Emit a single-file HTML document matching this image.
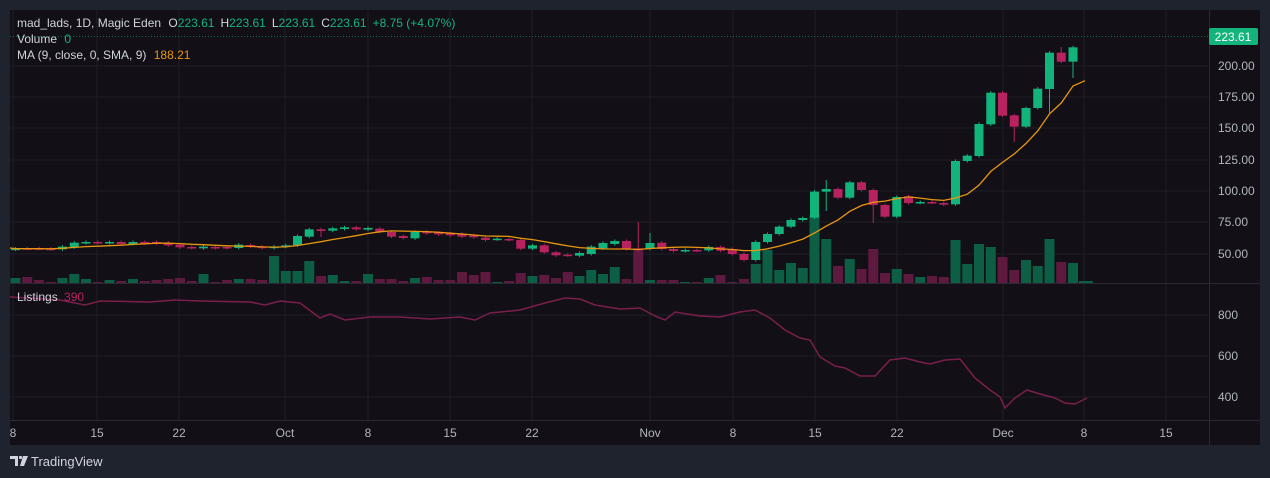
<!DOCTYPE html><html><head><meta charset="utf-8"><style>
body{margin:0;width:1270px;height:478px;background:#1f232d;overflow:hidden;font-family:"Liberation Sans",sans-serif}
svg{position:absolute;left:0;top:0}
</style></head><body>
<svg id="s" width="1270" height="478" xmlns="http://www.w3.org/2000/svg"></svg>
<script>
const S=document.getElementById('s');let h='';
h+='<rect x="10" y="10" width="1250" height="435" fill="#120f17"/>';
const ticks=[[13,'8'],[97,'15'],[179,'22'],[285,'Oct'],[368,'8'],[450,'15'],[532,'22'],[650,'Nov'],[733,'8'],[815,'15'],[897,'22'],[1003,'Dec'],[1084,'8'],[1166,'15']];
ticks.forEach(t=>{h+=`<line x1="${t[0]}" x2="${t[0]}" y1="10" y2="420" stroke="#1e1c26"/>`;});
const pl=[[66,'200.00'],[97,'175.00'],[128,'150.00'],[160,'125.00'],[191,'100.00'],[222,'75.00'],[254,'50.00']];
pl.forEach(p=>{h+=`<line x1="10" x2="1209" y1="${p[0]}" y2="${p[0]}" stroke="#1e1c26"/><text x="1218" y="${p[0]+4}" fill="#b2b5be" font-size="12">${p[1]}</text>`;});
[[315,'800'],[356,'600'],[397,'400']].forEach(p=>{h+=`<line x1="10" x2="1209" y1="${p[0]}" y2="${p[0]}" stroke="#1e1c26"/><text x="1218" y="${p[0]+4}" fill="#b2b5be" font-size="12">${p[1]}</text>`;});
h+='<line x1="1209.5" x2="1209.5" y1="10" y2="445" stroke="#2a2834"/>';
h+='<line x1="10" x2="1260" y1="283.5" y2="283.5" stroke="#2a2834"/>';
h+='<line x1="10" x2="1260" y1="420.5" y2="420.5" stroke="#2a2834"/>';
ticks.forEach(t=>{h+=`<text x="${t[0]}" y="437" fill="#b2b5be" font-size="12" text-anchor="middle">${t[1]}</text>`;});
const z3=[[86,88,1],[85,86,0],[85,86,0],[86,87,0],[80,88,1],[68,82,1],[66,69,1],[66,69,0],[66,69,1],[66,72,0],[66,72,1],[66,70,0],[66,70,0],[68,76,0],[74,82,0],[81,84,0],[80,85,1],[81,84,0],[81,84,0],[74,84,1],[75,79,0],[80,84,0],[80,84,1],[76,80,1],[48,76,1],[28,50,1],[28,33,0],[25,32,1],[22,27,1],[22,28,0],[24,29,1],[26,35,0],[36,50,0],[48,54,0],[36,55,1],[35,40,0],[38,43,0],[40,46,0],[42,50,0],[46,52,0],[53,60,0],[56,58,1],[57,60,0],[60,86,0],[76,86,1],[76,97,0],[97,106,0],[104,106,0],[99,107,1],
[80,102,1],[69,85,1],[63,72,1],[63,87,0],[85,90,0],[69,87,1],[68,87,0],[87,93,0],[90,93,1],[90,92,0],[81,91,1],[81,92,0],[87,102,0]];
let C=z3.map(c=>[220+c[0]/3,220+c[1]/3,c[2]]);
const z2=[[672,690,0],[636,690,1],[612,636,1],[590,612,1],[570,590,1],[564,570,1],[485,563,1],[477,485,1],[477,503,0],[457,503,1],[457,480,0],[480,525,0],[525,560,0],[501,560,1],[499,519,0],[516,518,1],[516,518,0],[519,524,0],[393,523,1],[377,393,1],[282,378,1],[188,283,1],[188,257,0],[256,290,0],[234,290,1],[176,234,1],[68,177,1],[68,95,0],[52,95,1]];
C=C.concat(z2.map(c=>[30+c[0]/3,30+c[1]/3,c[2]]));
const V=[5,6,3,1,5,9,4,1,3,2,4,2,3,4,5,2,9,1,3,4,4,3,27,12,12,22,7,8,2,2,9,4,4,2,5,6,3,3,11,8,11,1,2,10,7,8,5,11,7,
13,9,16,4,34,3,3,3,1,1,5,8,1,
4,19,33,13,20,15,68,44,17,24,14,34,10,14,9,6,7,6,43,19,39,36,26,13,23,17,44,21,20];
const n=C.length,dx=11.75;const X=i=>1073-(n-1-i)*dx;
const wick={53:[222,0],54:[233,0],26:[0,237],69:[180,211],73:[0,223],85:[0,142],88:[0,113],89:[47,0],90:[0,78]};
for(let i=0;i<n;i++){const c=C[i],x=X(i),g=c[2];const vc=g?'#0c5e45':'#5e1a3e';
 const v=V[i]||1;h+=`<rect x="${x-5}" y="${283-v}" width="10" height="${v}" fill="${vc}"/>`;}
h+='<rect x="1079" y="281" width="14" height="2" fill="#0c5e45"/>';
for(let i=0;i<n;i++){const c=C[i],x=X(i),g=c[2];const col=g?'#13b47c':'#b8225f';
 let hi=c[0]-1.5,lo=c[1]+1.5;if(wick[i]){if(wick[i][0])hi=wick[i][0];if(wick[i][1])lo=wick[i][1];}
 h+=`<line x1="${x}" x2="${x}" y1="${hi}" y2="${lo}" stroke="${col}"/>`;
 h+=`<rect x="${x-4.5}" y="${c[0]}" width="9" height="${Math.max(1.5,c[1]-c[0])}" fill="${col}"/>`;}
const cl=C.map(c=>c[2]?c[0]:c[1]);let pts=[];
for(let i=0;i<n;i++){let s=0,k=0;for(let j=Math.max(0,i-8);j<=i;j++){s+=cl[j];k++;}pts.push(X(i).toFixed(1)+','+(s/k).toFixed(1));}
pts.pop();pts.push('1073,86');pts.push('1085,80.7');
h+=`<polyline points="10,248 ${pts.join(' ')}" fill="none" stroke="#e8960f" stroke-width="1.3"/>`;
h+='<line x1="10" x2="1209" y1="36.5" y2="36.5" stroke="#0f6b50" stroke-dasharray="1,2"/>';
h+='<rect x="1209" y="28" width="49" height="17" rx="2" fill="#13b47c"/><text x="1233" y="41" fill="#fff" font-size="12" text-anchor="middle">223.61</text>';
const L=[[10,297],[60,300],[85,305],[100,301],[150,302],[175,300],[200,301],[250,302],[265,305],[280,301],[300,303],[320,318],[330,314],[345,320],[370,317],[400,317],[430,319],[460,317],[475,320],[490,313],[520,310],[545,303],[565,298],[580,299],[595,305],[620,309],[640,308],[655,316],[665,320],[675,312],[700,316],[720,317],[740,312],[755,310],[770,318],[785,330],[800,338],[810,340],[820,357],[835,366],[845,368],[860,376],[875,376],[890,360],[905,358],[920,362],[930,364],[945,360],[960,359],[975,378],[990,390],[1000,397],[1005,408],[1015,398],[1027,390],[1040,394],[1055,398],[1065,403],[1075,404],[1087,398]];
h+=`<polyline points="${L.map(p=>p.join(',')).join(' ')}" fill="none" stroke="#7a1f4c" stroke-width="1.5"/>`;
h+=`<text x="17" y="27" font-size="12" fill="#d1d4dc">mad_lads, 1D, Magic Eden <tspan dx="4">O</tspan><tspan fill="#13b47c">223.61</tspan><tspan dx="6">H</tspan><tspan fill="#13b47c">223.61</tspan><tspan dx="6">L</tspan><tspan fill="#13b47c">223.61</tspan><tspan dx="6">C</tspan><tspan fill="#13b47c">223.61</tspan><tspan dx="6" fill="#13b47c">+8.75 (+4.07%)</tspan></text>`;
h+=`<text x="17" y="43" font-size="12" fill="#d1d4dc">Volume <tspan dx="4" fill="#13b47c">0</tspan></text>`;
h+=`<text x="17" y="59" font-size="12" fill="#d1d4dc">MA (9, close, 0, SMA, 9) <tspan dx="4" fill="#e8960f">188.21</tspan></text>`;
h+=`<text x="17" y="301" font-size="12" fill="#d1d4dc">Listings <tspan dx="3" fill="#b8225f">390</tspan></text>`;
h+='<path d="M10 456h8v10h-3v-7h-5z" fill="#d1d4dc"/><circle cx="20.5" cy="457.5" r="1.6" fill="#d1d4dc"/><path d="M23 456h5l-4 10h-4z" fill="#d1d4dc"/>';
h+='<text x="31" y="466" font-size="13" fill="#d1d4dc">TradingView</text>';
S.innerHTML=h;
</script></body></html>
